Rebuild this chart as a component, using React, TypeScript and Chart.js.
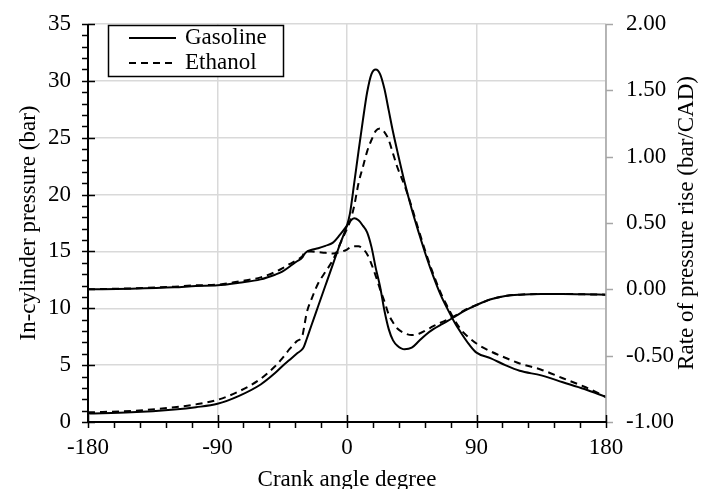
import React, { useEffect, useRef } from "react";
import { Chart, registerables } from "chart.js";

Chart.register(...registerables);

// Crank angle (deg)
const angles = [
  -180, -150, -120, -105, -90, -75, -60, -50, -45, -40, -35, -31, -30, -28, -25, -20, -15, -10, -5, 0,
  2, 5, 8, 11, 14, 17, 20, 23, 26, 29, 32, 35, 40, 45, 50, 55, 60, 65, 70, 75,
  80, 85, 90, 100, 110, 120, 135, 150, 165, 180,
];

// In-cylinder pressure (bar)
const gasolinePressure = [
  0.75, 0.85, 1.1, 1.3, 1.6, 2.3, 3.3, 4.3, 4.9, 5.45, 6.0, 6.4, 6.6, 7.3, 8.4, 10.2, 12.0, 13.8, 15.6, 17.3,
  18.3, 21.0, 23.8, 26.5, 29.0, 30.6, 31.0, 30.6, 29.3, 27.4, 25.5, 23.8, 21.1, 18.7, 16.6, 14.6, 12.8, 11.2, 9.9, 8.7,
  7.7, 6.8, 6.1, 5.6, 5.0, 4.5, 4.1, 3.5, 2.9, 2.2,
];
const ethanolPressure = [
  0.85, 0.97, 1.3, 1.55, 1.95, 2.7, 3.8, 4.9, 5.6, 6.4, 7.1, 7.6, 8.2, 9.6, 10.7, 12.2, 13.2, 14.2, 15.6, 17.0,
  17.6, 19.0, 21.0, 22.4, 23.8, 24.8, 25.6, 25.8, 25.5, 24.8, 23.6, 22.4, 20.8, 18.9, 16.8, 14.8, 13.0, 11.4, 10.1, 8.9,
  8.0, 7.4, 6.9, 6.2, 5.65, 5.15, 4.6, 3.85, 3.1, 2.2,
];

// Rate of pressure rise (bar/CAD)
const gasolineRopr = [
  0.0, 0.005, 0.015, 0.025, 0.03, 0.05, 0.075, 0.11, 0.133, 0.17, 0.21, 0.24, 0.26, 0.283, 0.297, 0.31, 0.328, 0.35, 0.41, 0.48,
  0.51, 0.535, 0.52, 0.48, 0.43, 0.32, 0.16, 0.02, -0.16, -0.3, -0.385, -0.425, -0.452, -0.44, -0.39, -0.34, -0.3, -0.268, -0.238, -0.205,
  -0.172, -0.143, -0.118, -0.075, -0.05, -0.04, -0.035, -0.035, -0.038, -0.04,
];
const ethanolRopr = [
  0.0, 0.007, 0.02, 0.03, 0.035, 0.06, 0.09, 0.13, 0.158, 0.19, 0.22, 0.25, 0.27, 0.285, 0.285, 0.28, 0.275, 0.27, 0.28, 0.3,
  0.315, 0.325, 0.325, 0.305, 0.265, 0.19, 0.1, 0.0, -0.09, -0.19, -0.25, -0.295, -0.33, -0.345, -0.335, -0.308, -0.278, -0.252, -0.228, -0.2,
  -0.168, -0.14, -0.118, -0.075, -0.05, -0.04, -0.035, -0.035, -0.038, -0.04,
];

const seriesLabels = ["Gasoline", "Ethanol"];
const xTitle = "Crank angle degree";
const yTitle = "In-cylinder pressure (bar)";
const y2Title = "Rate of pressure rise (bar/CAD)";

const FONT = '"Liberation Serif", "Times New Roman", serif';
const DASH = [7, 5];

const toPoints = (vals: number[]) => angles.map((a, i) => ({ x: a, y: vals[i] }));

const decorPlugin = {
  id: "decor",
  afterDraw(chart: any) {
    const { ctx, chartArea: a, scales } = chart;
    const sx = scales.x;
    const sy = scales.y;
    const sy2 = scales.y2;
    ctx.save();

    // right axis (gray)
    ctx.strokeStyle = "#a6a6a6";
    ctx.lineWidth = 1.5;
    ctx.beginPath();
    ctx.moveTo(a.right, a.top);
    ctx.lineTo(a.right, a.bottom);
    for (let v = -1; v <= 2.0001; v += 0.5) {
      const p = Math.round(sy2.getPixelForValue(v)) + 0.5;
      ctx.moveTo(a.right, p);
      ctx.lineTo(a.right + 7, p);
    }
    ctx.stroke();

    // left axis (black)
    ctx.strokeStyle = "#000";
    ctx.lineWidth = 2;
    ctx.beginPath();
    ctx.moveTo(a.left, a.top);
    ctx.lineTo(a.left, a.bottom);
    ctx.stroke();
    ctx.lineWidth = 1.5;
    ctx.beginPath();
    for (let v = 0; v <= 35; v += 1) {
      const p = Math.round(sy.getPixelForValue(v)) + 0.5;
      ctx.moveTo(a.left - 6, p);
      ctx.lineTo(v % 5 === 0 ? a.left + 7 : a.left, p);
    }
    ctx.stroke();

    // bottom axis (black)
    ctx.lineWidth = 2;
    ctx.beginPath();
    ctx.moveTo(a.left, a.bottom);
    ctx.lineTo(a.right, a.bottom);
    ctx.stroke();
    ctx.lineWidth = 1.5;
    ctx.beginPath();
    for (let d = -180; d <= 180; d += 18) {
      const p = Math.round(sx.getPixelForValue(d)) + 0.5;
      ctx.moveTo(p, a.bottom + 6);
      ctx.lineTo(p, d % 90 === 0 ? a.bottom - 7 : a.bottom);
    }
    ctx.stroke();

    // axis titles
    ctx.fillStyle = "#000";
    ctx.font = `23px ${FONT}`;
    ctx.textAlign = "center";
    ctx.textBaseline = "alphabetic";
    const cx = (a.left + a.right) / 2;
    const cy = (a.top + a.bottom) / 2;
    ctx.fillText(xTitle, cx, 486);
    ctx.save();
    ctx.translate(35, cy);
    ctx.rotate(-Math.PI / 2);
    ctx.fillText(yTitle, 0, 0);
    ctx.restore();
    ctx.save();
    ctx.translate(693, cy);
    ctx.rotate(-Math.PI / 2);
    ctx.fillText(y2Title, 0, 0);
    ctx.restore();

    // legend
    const lx = 108, ly = 25, lw = 175, lh = 51;
    ctx.fillStyle = "#fff";
    ctx.fillRect(lx, ly, lw, lh);
    ctx.strokeStyle = "#000";
    ctx.lineWidth = 1.5;
    ctx.strokeRect(lx + 0.5, ly + 0.5, lw, lh);
    const rows = [38, 63];
    seriesLabels.forEach((label, i) => {
      const ds = chart.data.datasets[i];
      ctx.setLineDash(ds.borderDash || []);
      ctx.lineWidth = 2;
      ctx.beginPath();
      ctx.moveTo(129, rows[i]);
      ctx.lineTo(176, rows[i]);
      ctx.stroke();
      ctx.setLineDash([]);
      ctx.textAlign = "left";
      ctx.textBaseline = "middle";
      ctx.fillStyle = "#000";
      ctx.fillText(label, 185, rows[i]);
    });

    ctx.restore();
  },
};

const fitV = (w: number) => (s: any) => {
  s.width = w;
  s.paddingTop = 0;
  s.paddingBottom = 0;
};

export default function App() {
  const ref = useRef<HTMLCanvasElement | null>(null);

  useEffect(() => {
    document.body.style.margin = "0";
    const canvas = ref.current;
    if (!canvas) return;
    const lineBase = {
      pointRadius: 0,
      borderColor: "#000",
      borderWidth: 2,
      cubicInterpolationMode: "monotone" as const,
      fill: false,
    };
    const chart = new Chart(canvas, {
      type: "line",
      data: {
        datasets: [
          { ...lineBase, label: seriesLabels[0], data: toPoints(gasolinePressure), yAxisID: "y" },
          { ...lineBase, label: seriesLabels[1], data: toPoints(ethanolPressure), yAxisID: "y", borderDash: DASH },
          { ...lineBase, label: seriesLabels[0] + " ROPR", data: toPoints(gasolineRopr), yAxisID: "y2" },
          { ...lineBase, label: seriesLabels[1] + " ROPR", data: toPoints(ethanolRopr), yAxisID: "y2", borderDash: DASH },
        ],
      },
      options: {
        responsive: false,
        animation: false,
        layout: { padding: { top: 24, left: 0, right: 0, bottom: 0 } },
        plugins: { legend: { display: false }, tooltip: { enabled: false } },
        scales: {
          x: {
            type: "linear",
            min: -180,
            max: 180,
            afterFit: (s: any) => { s.height = 67; s.paddingLeft = 0; s.paddingRight = 0; },
            ticks: { stepSize: 90, color: "#000", padding: 12, font: { family: FONT, size: 23 } },
            grid: { color: "#d9d9d9", lineWidth: 1.5, drawTicks: false },
            border: { display: false },
          },
          y: {
            type: "linear",
            position: "left",
            min: 0,
            max: 35,
            afterFit: fitV(88),
            ticks: { stepSize: 5, color: "#000", padding: 17, font: { family: FONT, size: 23 } },
            grid: { color: "#d9d9d9", lineWidth: 1.5, drawTicks: false },
            border: { display: false },
          },
          y2: {
            type: "linear",
            position: "right",
            min: -1,
            max: 2,
            afterFit: fitV(101),
            ticks: {
              stepSize: 0.5,
              color: "#000",
              padding: 20,
              font: { family: FONT, size: 23 },
              callback: (v: any) => Number(v).toFixed(2),
            },
            grid: { display: false, drawTicks: false },
            border: { display: false },
          },
        },
      },
      plugins: [decorPlugin],
    });
    return () => chart.destroy();
  }, []);

  return <canvas ref={ref} width={707} height={489} style={{ display: "block" }} />;
}
